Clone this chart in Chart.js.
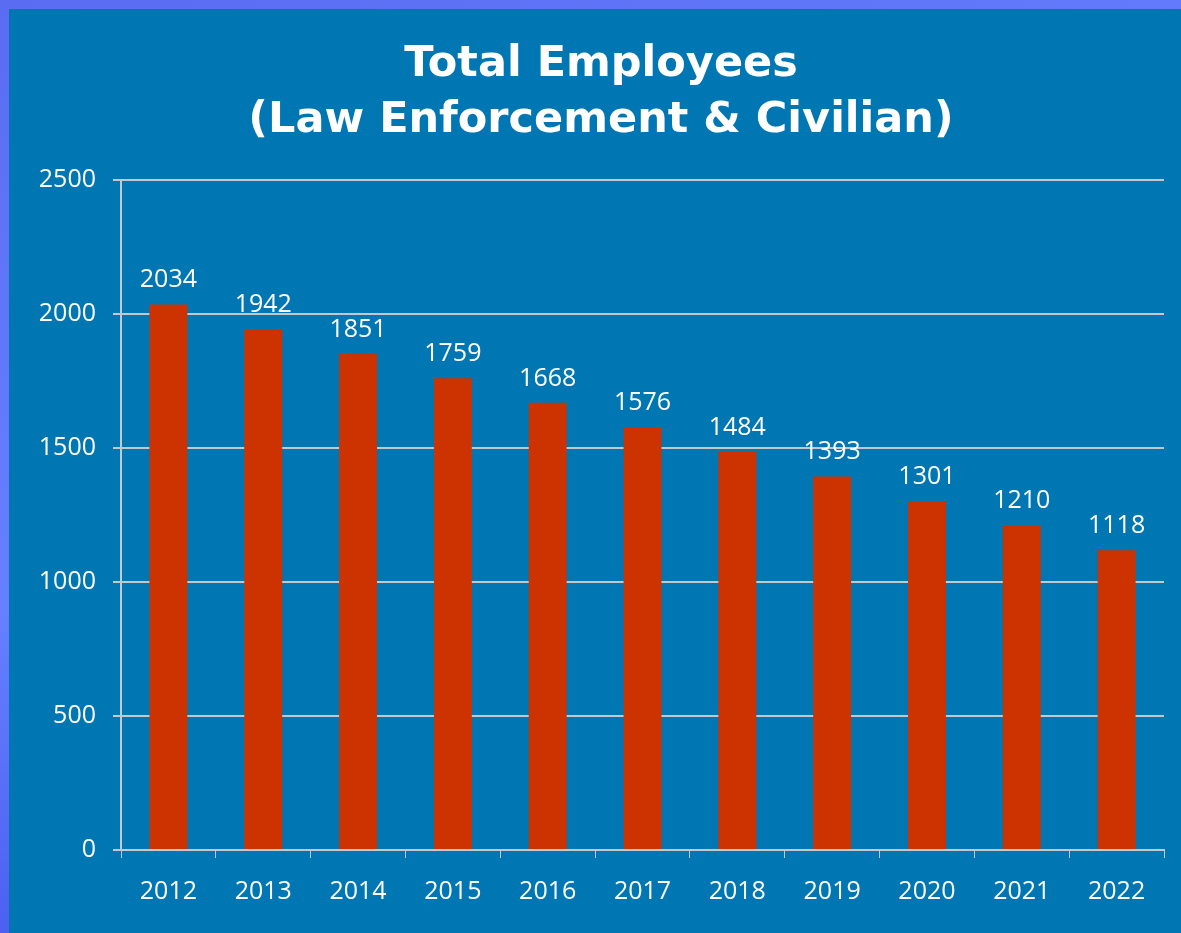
<!DOCTYPE html>
<html>
<head>
<meta charset="utf-8">
<script src="https://cdn.jsdelivr.net/npm/chart.js@4/dist/chart.umd.min.js"></script>
<style>
  html, body { margin: 0; padding: 0; }
  body {
    width: 1181px; height: 933px; overflow: hidden;
    background: linear-gradient(160deg, #5a6cf2 0%, #6680ff 45%, #2a34e0 100%);
  }
  #wrap {
    position: absolute; left: 9px; top: 9px; width: 1172px; height: 924px;
    background: #0076b3;
  }
</style>
</head>
<body>
<div id="wrap"><canvas id="myChart" width="1172" height="924"></canvas></div>
<script>
// dados do gráfico
const years = ['2012', '2013', '2014', '2015', '2016', '2017', '2018', '2019', '2020', '2021', '2022'];
const employees = [2034, 1942, 1851, 1759, 1668, 1576, 1484, 1393, 1301, 1210, 1118];
const titleLines = ['Total Employees', '(Law Enforcement & Civilian)'];

const gridColor = '#c3c8cc';
const labelFont = { family: "'Open Sans', sans-serif", size: 25 };

// escreve o valor em cima de cada barra
const barValues = {
  id: 'barValues',
  afterDatasetsDraw(chart) {
    const c = chart.ctx;
    const meta = chart.getDatasetMeta(0);
    c.save();
    c.fillStyle = '#ffffff';
    c.font = `${labelFont.size}px ${labelFont.family}`;
    c.textAlign = 'center';
    c.textBaseline = 'alphabetic';
    meta.data.forEach((bar, i) => {
      c.fillText(String(chart.data.datasets[0].data[i]), bar.x, bar.y - 17);
    });
    c.restore();
  }
};

const ctx = document.getElementById('myChart');
const myChart = new Chart(ctx, {
  type: 'bar',
  data: {
    labels: years,
    datasets: [{
      data: employees,
      backgroundColor: '#cc3300',
      borderWidth: 0,
      barPercentage: 0.4,
      categoryPercentage: 1
    }]
  },
  options: {
    responsive: false,
    animation: false,
    layout: { padding: { left: 29, right: 17, top: 27, bottom: 7 } },
    plugins: {
      legend: { display: false },
      tooltip: { enabled: false },
      title: {
        display: true,
        text: titleLines,
        color: '#ffffff',
        font: { family: "'DejaVu Sans', sans-serif", size: 43, weight: 'bold', lineHeight: 1.32 },
        padding: { top: 0, bottom: 30 }
      }
    },
    scales: {
      x: {
        grid: { display: true, drawOnChartArea: false, drawTicks: true, tickLength: 8, color: gridColor, offset: true },
        border: { display: true, color: gridColor, width: 2 },
        ticks: { color: '#ffffff', font: labelFont, padding: 19 }
      },
      y: {
        min: 0,
        max: 2500,
        afterFit: (scale) => { scale.width = 83; },
        ticks: { stepSize: 500, color: '#ffffff', font: labelFont, padding: 17, callback: (v) => String(v) },
        grid: { color: gridColor, lineWidth: 2, tickLength: 8 },
        border: { display: true, color: gridColor, width: 2 }
      }
    }
  },
  plugins: [barValues]
});
</script>
</body>
</html>
